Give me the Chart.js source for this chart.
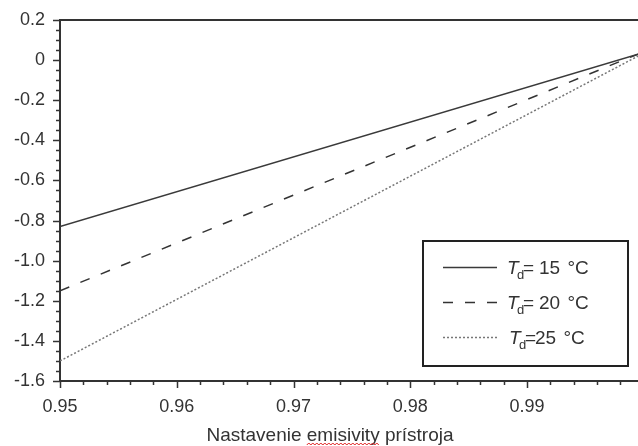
<!DOCTYPE html>
<html>
<head>
<meta charset="utf-8">
<script src="https://cdn.jsdelivr.net/npm/chart.js@4.4.1/dist/chart.umd.min.js"></script>
<style>
  html, body { margin: 0; padding: 0; background: #fff; }
  #wrap { width: 638px; height: 446px; }
</style>
</head>
<body>
<div id="wrap"><canvas id="chart" width="638" height="446"></canvas></div>
<script>
// Emisivita nastavená na prístroji (x) a chyba merania (y)
const EMISIVITY = [0.95, 0.9995];
const TD_15 = [-0.83, 0.03];
const TD_20 = [-1.15, 0.03];
const TD_25 = [-1.50, 0.02];
const TEMPS = ['15', '20', '25'];

const X_TICKS = [0.95, 0.96, 0.97, 0.98, 0.99];
const Y_TICKS = [0.2, 0, -0.2, -0.4, -0.6, -0.8, -1.0, -1.2, -1.4, -1.6];

const FONT = 'Liberation Sans, Arial, sans-serif';
const INK = '#333';

const toPoints = ys => ys.map((y, i) => ({ x: EMISIVITY[i], y }));

// small ticks + top frame line
const frame = {
  id: 'frame',
  afterDraw(chart) {
    const { ctx, chartArea: a, scales: { x, y } } = chart;
    ctx.save();
    ctx.strokeStyle = INK;
    ctx.lineWidth = 2;
    ctx.beginPath();
    ctx.moveTo(a.left, a.top);
    ctx.lineTo(a.right, a.top);
    ctx.stroke();

    ctx.lineWidth = 1.5;
    ctx.beginPath();
    for (let i = 0; i <= 30; i++) {
      const v = 0.95 + i * 0.002;
      if (v > x.max) break;
      const px = Math.round(x.getPixelForValue(v)) + 0.5;
      const len = i % 5 === 0 ? 7 : 4;
      ctx.moveTo(px, a.bottom);
      ctx.lineTo(px, a.bottom + len);
    }
    for (let i = 0; i <= 36; i++) {
      const v = -1.6 + i * 0.05;
      const py = Math.round(y.getPixelForValue(v)) + 0.5;
      const len = i % 4 === 0 ? 7 : 4;
      ctx.moveTo(a.left, py);
      ctx.lineTo(a.left - len, py);
    }
    ctx.stroke();
    ctx.restore();
  }
};

// legend box with T_d subscripts
const tdLegend = {
  id: 'tdLegend',
  afterDraw(chart) {
    const ctx = chart.ctx;
    const box = { x: 423, y: 241, w: 205, h: 125 };
    ctx.save();
    ctx.fillStyle = '#fff';
    ctx.fillRect(box.x, box.y, box.w, box.h);
    ctx.strokeStyle = '#222';
    ctx.lineWidth = 2;
    ctx.strokeRect(box.x, box.y, box.w, box.h);

    const rows = [267, 302, 337];
    chart.data.datasets.forEach((ds, i) => {
      const ry = rows[i] + 0.5;
      ctx.strokeStyle = ds.borderColor;
      ctx.lineWidth = ds.borderWidth;
      ctx.setLineDash(ds.borderDash || []);
      ctx.beginPath();
      ctx.moveTo(443, ry);
      ctx.lineTo(497, ry);
      ctx.stroke();
      ctx.setLineDash([]);

      ctx.fillStyle = INK;
      ctx.textBaseline = 'alphabetic';
      const base = rows[i] + 7;
      const shift = i === 2 ? 2 : 0;
      ctx.font = 'italic 19px ' + FONT;
      ctx.fillText('T', 507 + shift, base);
      ctx.font = '13px ' + FONT;
      ctx.fillText('d', 517 + shift, base + 5);
      ctx.font = '19px ' + FONT;
      ctx.fillText('=', 523 + shift, base);
      const nx = i === 2 ? 535 : 539;
      ctx.fillText(TEMPS[i], nx, base);
      ctx.fillText('°C', nx + ctx.measureText(TEMPS[i] + ' ').width + 2, base);
    });
    ctx.restore();
  }
};

// x axis title with the spell-check squiggle
const xTitle = {
  id: 'xTitle',
  afterDraw(chart) {
    const ctx = chart.ctx;
    const text = 'Nastavenie emisivity prístroja';
    ctx.save();
    ctx.font = '19px ' + FONT;
    ctx.fillStyle = INK;
    ctx.textBaseline = 'alphabetic';
    const w = ctx.measureText(text).width;
    const x0 = 330 - w / 2;
    ctx.fillText(text, x0, 441);
    const sx = x0 + ctx.measureText('Nastavenie ').width;
    const ex = sx + ctx.measureText('emisivity').width;
    ctx.strokeStyle = '#e02020';
    ctx.lineWidth = 1;
    ctx.beginPath();
    for (let px = sx, k = 0; px <= ex; px += 2, k++) {
      const py = 444 + (k % 2 ? -1 : 1);
      if (k === 0) ctx.moveTo(px, py); else ctx.lineTo(px, py);
    }
    ctx.stroke();
    ctx.restore();
  }
};

new Chart(document.getElementById('chart'), {
  type: 'line',
  data: {
    datasets: [
      {
        label: 'Td= ' + TEMPS[0] + ' °C',
        data: toPoints(TD_15),
        borderColor: '#3a3a3a',
        borderWidth: 1.5,
        pointRadius: 0,
        fill: false
      },
      {
        label: 'Td= ' + TEMPS[1] + ' °C',
        data: toPoints(TD_20),
        borderColor: '#333',
        borderWidth: 1.5,
        borderDash: [10, 12],
        pointRadius: 0,
        fill: false
      },
      {
        label: 'Td= ' + TEMPS[2] + ' °C',
        data: toPoints(TD_25),
        borderColor: '#777',
        borderWidth: 1.5,
        borderDash: [2, 2],
        pointRadius: 0,
        fill: false
      }
    ]
  },
  options: {
    responsive: false,
    animation: false,
    layout: { padding: { top: 20, right: 0, left: 0, bottom: 0 } },
    plugins: {
      legend: { display: false },
      tooltip: { enabled: false }
    },
    scales: {
      x: {
        type: 'linear',
        min: 0.95,
        max: 0.9995,
        afterFit: s => { s.height = 65; s.paddingLeft = 0; s.paddingRight = 0; },
        afterBuildTicks: s => { s.ticks = X_TICKS.map(v => ({ value: v })); },
        grid: { display: false, drawTicks: false },
        border: { display: true, color: INK, width: 2 },
        ticks: {
          callback: v => v.toFixed(2),
          color: INK,
          font: { family: FONT, size: 18 },
          padding: 15,
          maxRotation: 0
        }
      },
      y: {
        type: 'linear',
        min: -1.6,
        max: 0.2,
        afterFit: s => { s.width = 60; s.paddingTop = 0; s.paddingBottom = 0; },
        afterBuildTicks: s => { s.ticks = Y_TICKS.map(v => ({ value: v })); },
        grid: { display: false, drawTicks: false },
        border: { display: true, color: INK, width: 2 },
        ticks: {
          callback: v => Math.abs(v) < 1e-9 ? '0' : v.toFixed(1),
          color: INK,
          font: { family: FONT, size: 18 },
          padding: 15
        }
      }
    }
  },
  plugins: [frame, tdLegend, xTitle]
});
</script>
</body>
</html>
